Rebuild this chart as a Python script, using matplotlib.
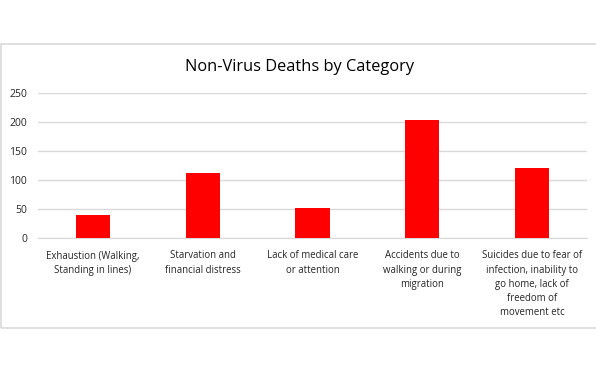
import matplotlib
matplotlib.use('Agg')
import matplotlib.pyplot as plt
from matplotlib.patches import Rectangle

categories = [
    'Exhaustion (Walking,\nStanding in lines)',
    'Starvation and\nfinancial distress',
    'Lack of medical care\nor attention',
    'Accidents due to\nwalking or during\nmigration',
    'Suicides due to fear of\ninfection, inability to\ngo home, lack of\nfreedom of\nmovement etc',
]
deaths = [40, 112, 52, 204, 120]
yticks = [0, 50, 100, 150, 200, 250]

plt.rcParams['font.family'] = ['Open Sans', 'DejaVu Sans']

W, H = 596, 372
fig = plt.figure(figsize=(W / 100, H / 100), dpi=100)

# chart border (Excel-style frame, right edge runs off the image)
fig.patches.append(Rectangle((0.5 / W, 1 - 328 / H), 1.2, (328 - 44) / H,
                             transform=fig.transFigure, fill=False,
                             edgecolor='#d9d9d9', linewidth=1.2))

ax = fig.add_axes([38 / W, 1 - 238 / H, (587 - 38) / W, (238 - 93) / H])
x = range(len(categories))
ax.bar(x, deaths, width=0.31, color='#ff0000', zorder=3)

ax.set_ylim(0, 250)
ax.set_xlim(-0.5, len(categories) - 0.5)
ax.set_yticks(yticks)
ax.set_xticks(list(x))
ax.set_xticklabels(categories, fontsize=6.9, color='#262626', linespacing=1.4)
ax.tick_params(axis='y', labelsize=7.5, labelcolor='#262626', length=0, pad=8)
ax.tick_params(axis='x', length=0, pad=9)
ax.grid(axis='y', color='#d9d9d9', linewidth=1, zorder=0)
for side in ['top', 'right', 'left']:
    ax.spines[side].set_visible(False)
ax.spines['bottom'].set_color('#d9d9d9')

fig.text(300 / W, 1 - 67 / H, 'Non-Virus Deaths by Category', ha='center',
         va='center', fontsize=11.8, color='#000000')

fig.savefig('out.png', dpi=100)
